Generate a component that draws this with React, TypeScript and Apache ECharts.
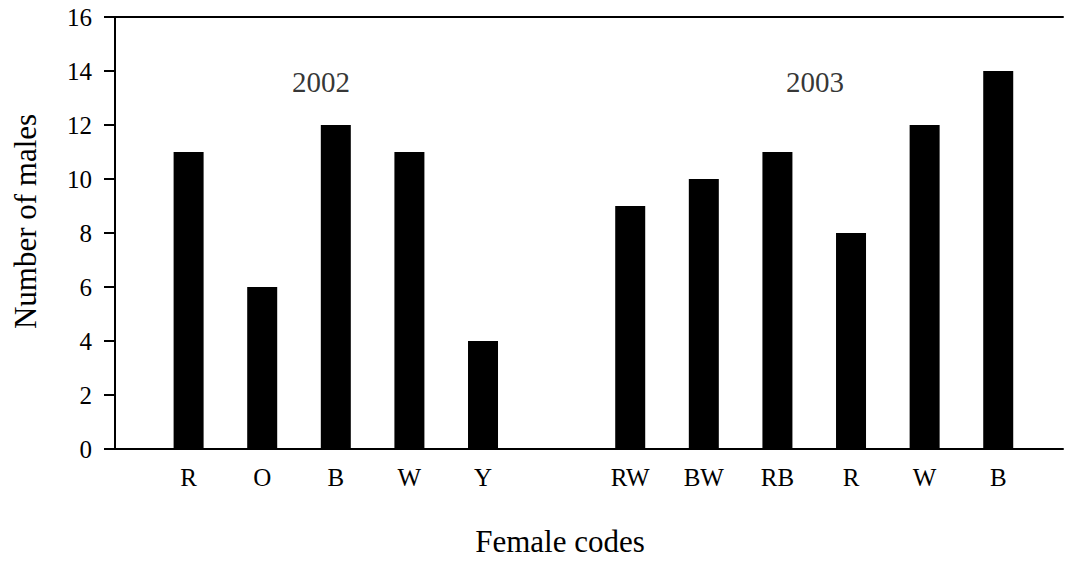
import React, { useEffect, useRef } from "react";
import * as echarts from "echarts";

// Bar slots along the x axis (slot 6 is the gap between the two years)
const slots2002 = [1, 2, 3, 4, 5];
const codes2002 = ["R", "O", "B", "W", "Y"];
const males2002 = [11, 6, 12, 11, 4];

const slots2003 = [7, 8, 9, 10, 11, 12];
const codes2003 = ["RW", "BW", "RB", "R", "W", "B"];
const males2003 = [9, 10, 11, 8, 12, 14];

const yTicks = [0, 2, 4, 6, 8, 10, 12, 14, 16];

// Year captions placed in data coordinates
const yearLabels = ["2002", "2003"];
const yearPositions: [number, number][] = [
  [2.8, 13.6],
  [9.51, 13.6],
];

const FONT = "Liberation Serif, Times New Roman, serif";

export default function App() {
  const ref = useRef<HTMLDivElement>(null);

  useEffect(() => {
    if (!ref.current) return;
    const chart = echarts.init(ref.current, null, { renderer: "svg" });

    const slotLabel: Record<number, string> = {};
    slots2002.forEach((s, i) => (slotLabel[s] = codes2002[i]));
    slots2003.forEach((s, i) => (slotLabel[s] = codes2003[i]));

    const barData = [
      ...slots2002.map((s, i) => [s, males2002[i]]),
      ...slots2003.map((s, i) => [s, males2003[i]]),
    ];

    const axisLine = { show: true, lineStyle: { color: "#000", width: 2 } };

    chart.setOption({
      animation: false,
      backgroundColor: "#fff",
      textStyle: { fontFamily: FONT },
      grid: { left: 115, right: 0, top: 17, bottom: 114, containLabel: false },
      xAxis: [
        {
          type: "value",
          min: 0,
          max: 12.88,
          interval: 1,
          position: "bottom",
          axisLine,
          axisTick: { show: false },
          splitLine: { show: false },
          axisLabel: {
            show: true,
            margin: 16,
            fontFamily: FONT,
            fontSize: 25,
            color: "#000",
            showMinLabel: true,
            showMaxLabel: true,
            formatter: (v: number) => (Number.isInteger(v) && slotLabel[v]) || "",
          },
        },
        {
          type: "value",
          min: 0,
          max: 12.88,
          position: "top",
          axisLine,
          axisTick: { show: false },
          axisLabel: { show: false },
          splitLine: { show: false },
        },
      ],
      yAxis: {
        type: "value",
        min: yTicks[0],
        max: yTicks[yTicks.length - 1],
        interval: 2,
        axisLine,
        axisTick: { show: true, length: 11, inside: false, lineStyle: { color: "#000", width: 2 } },
        splitLine: { show: false },
        axisLabel: {
          margin: 23,
          fontFamily: FONT,
          fontSize: 25,
          color: "#000",
        },
      },
      series: [
        {
          type: "bar",
          data: barData,
          barWidth: 30,
          itemStyle: { color: "#000" },
        },
        {
          type: "scatter",
          symbolSize: 0,
          data: yearPositions.map((p, i) => ({ name: yearLabels[i], value: p })),
          label: {
            show: true,
            position: "inside",
            formatter: (p: any) => p.name,
            fontFamily: FONT,
            fontSize: 29,
            color: "#000",
          },
        },
      ],
      graphic: [
        {
          type: "text",
          x: 25,
          y: 221.5,
          rotation: Math.PI / 2,
          style: {
            text: "Number of males",
            fontFamily: FONT,
            fontSize: 31,
            fill: "#000",
            align: "center",
            verticalAlign: "middle",
          },
        },
        {
          type: "text",
          x: 560,
          y: 541,
          style: {
            text: "Female codes",
            fontFamily: FONT,
            fontSize: 31,
            fill: "#000",
            align: "center",
            verticalAlign: "middle",
          },
        },
      ],
    });

    return () => chart.dispose();
  }, []);

  return (
    <div
      ref={ref}
      style={{ position: "fixed", left: 0, top: 0, width: 1066, height: 563, background: "#fff" }}
    />
  );
}
